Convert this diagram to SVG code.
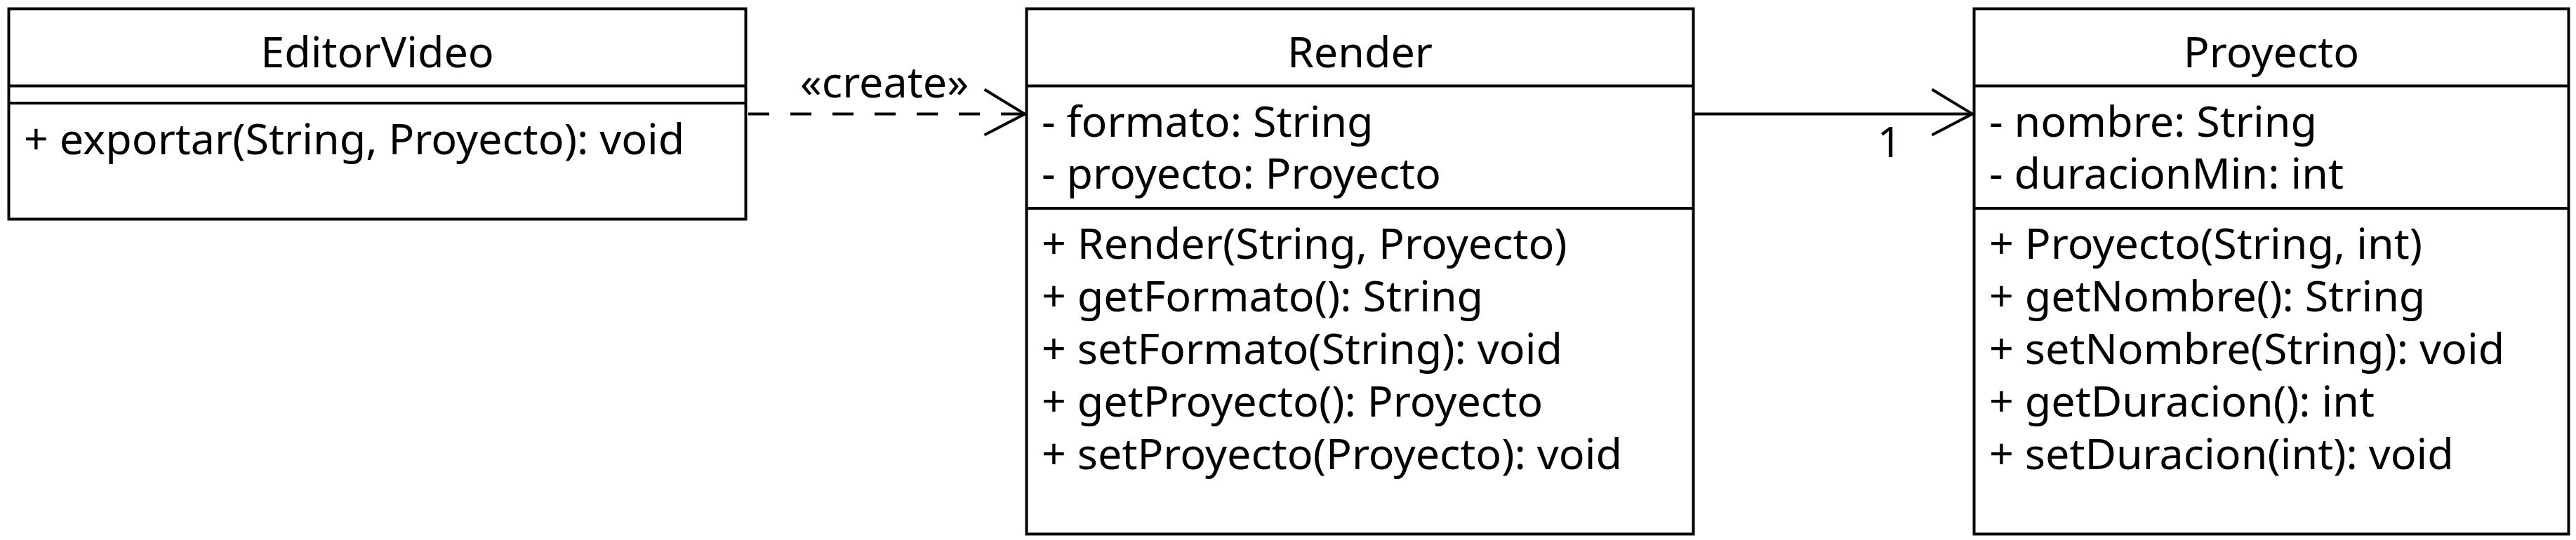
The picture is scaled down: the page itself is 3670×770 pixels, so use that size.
<svg xmlns="http://www.w3.org/2000/svg" width="3670" height="770" viewBox="0 0 3670 770">
<style>
.box{fill:#fff;stroke:#000;stroke-width:4}
.div{stroke:#000;stroke-width:4}
text{font-family:"Noto Sans","Open Sans","DejaVu Sans",sans-serif;font-size:61px;fill:#000}
.t{text-anchor:middle}
.edge{fill:none;stroke:#000;stroke-width:4}
</style>
<rect width="3670" height="770" fill="#fff"/>
<g id="EditorVideo">
<rect class="box" x="12.5" y="12.5" width="1050" height="300"/>
<line class="div" x1="12.5" y1="122.5" x2="1062.5" y2="122.5"/>
<line class="div" x1="12.5" y1="147" x2="1062.5" y2="147"/>
<text class="t" x="537.5" y="96">EditorVideo</text>
<text x="34" y="220">+ exportar(String, Proyecto): void</text>
</g>
<g id="Render">
<rect class="box" x="1462.5" y="12.5" width="950" height="749"/>
<line class="div" x1="1462.5" y1="122.5" x2="2412.5" y2="122.5"/>
<line class="div" x1="1462.5" y1="297" x2="2412.5" y2="297"/>
<text class="t" x="1937.5" y="96">Render</text>
<text x="1484" y="195">- formato: String</text>
<text x="1484" y="269">- proyecto: Proyecto</text>
<text x="1484" y="369">+ Render(String, Proyecto)</text>
<text x="1484" y="444">+ getFormato(): String</text>
<text x="1484" y="519">+ setFormato(String): void</text>
<text x="1484" y="594">+ getProyecto(): Proyecto</text>
<text x="1484" y="669">+ setProyecto(Proyecto): void</text>
</g>
<g id="Proyecto">
<rect class="box" x="2812.5" y="12.5" width="847" height="749"/>
<line class="div" x1="2812.5" y1="122.5" x2="3659.5" y2="122.5"/>
<line class="div" x1="2812.5" y1="297" x2="3659.5" y2="297"/>
<text class="t" x="3236" y="96">Proyecto</text>
<text x="2834" y="195">- nombre: String</text>
<text x="2834" y="269">- duracionMin: int</text>
<text x="2834" y="369">+ Proyecto(String, int)</text>
<text x="2834" y="444">+ getNombre(): String</text>
<text x="2834" y="519">+ setNombre(String): void</text>
<text x="2834" y="594">+ getDuracion(): int</text>
<text x="2834" y="669">+ setDuracion(int): void</text>
</g>
<g id="connectors">
<line class="edge" x1="1066" y1="162.5" x2="1458" y2="162.5" stroke-dasharray="30 30"/>
<polyline class="edge" points="1402.5,127.5 1460,162.5 1402.5,192.5"/>
<text class="t" x="1260" y="139">«create»</text>
<line class="edge" x1="2414" y1="162.5" x2="2808" y2="162.5"/>
<polyline class="edge" points="2752.5,127.5 2810,162.5 2752.5,192.5"/>
<text class="t" x="2692" y="224">1</text>
</g>
</svg>
